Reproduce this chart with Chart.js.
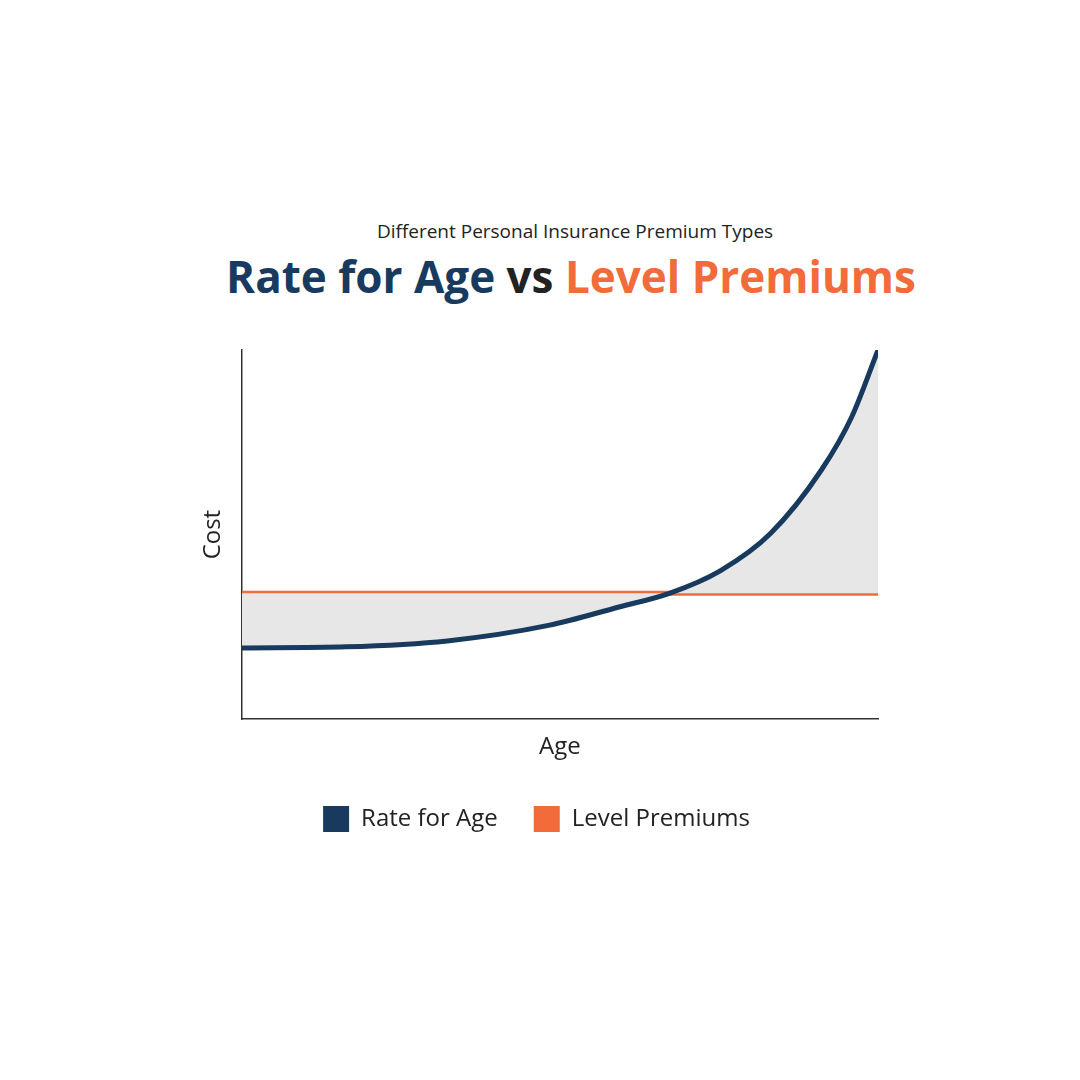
<!DOCTYPE html>
<html>
<head>
<meta charset="utf-8">
<script src="https://cdn.jsdelivr.net/npm/chart.js@4/dist/chart.umd.min.js"></script>
<style>
  body { margin: 0; background: #fff; font-family: "Open Sans", sans-serif; }
  #wrap { position: relative; width: 1080px; height: 1080px; }
  #sub { position: absolute; top: 218px; left: 0; width: 1150px; text-align: center; font-size: 19px; color: #222; }
  #main { position: absolute; top: 246px; left: 0; width: 1142px; text-align: center; font-size: 44px; font-weight: 700; color: #222; }
  canvas { position: absolute; top: 0; left: 0; }
</style>
</head>
<body>
<div id="wrap">
  <div id="sub">Different Personal Insurance Premium Types</div>
  <div id="main"><span style="color:#173a5e">Rate for Age</span> vs <span style="color:#f26b3a">Level Premiums</span></div>
  <canvas id="chart" width="1080" height="1080"></canvas>
</div>
<script>
// --- DATA ---
const ages = [0, 16.4, 32.3, 48.2, 59.3, 67.2, 75.2, 83.1, 91.1, 95.9, 100];
const rateForAge = [19.3, 19.6, 21.2, 25.4, 30.4, 34.1, 40.2, 50.3, 67.5, 82, 100];
const levelPremium = [34.1, 34.1, 34.1, 34.1, 34.1, 34.1, 34.1, 34.1, 34.1, 34.1, 34.1];

const navy = '#173a5e';
const orange = '#f26b3a';

const toPoints = (ys) => ages.map((x, i) => ({ x: x, y: ys[i] }));

new Chart(document.getElementById('chart'), {
    type: 'line',
    data: {
        datasets: [{
            label: 'Rate for Age',
            data: toPoints(rateForAge),
            borderColor: navy,
            backgroundColor: navy,
            borderWidth: 5,
            pointRadius: 0,
            cubicInterpolationMode: 'monotone',
            fill: { target: 1, above: '#e7e7e7', below: '#e7e7e7' }
        }, {
            label: 'Level Premiums',
            data: toPoints(levelPremium),
            borderColor: orange,
            backgroundColor: orange,
            borderWidth: 5,
            pointRadius: 0,
            fill: false
        }]
    },
    options: {
        responsive: false,
        animation: false,
        layout: { padding: { left: 195, right: 202, top: 350, bottom: 238 } },
        plugins: {
            legend: {
                position: 'bottom',
                labels: {
                    boxWidth: 26, boxHeight: 26, padding: 36,
                    color: '#222',
                    font: { family: 'Open Sans', size: 24 },
                    generateLabels: (chart) => chart.data.datasets.map((d, i) => ({
                        text: d.label, fillStyle: d.borderColor, strokeStyle: d.borderColor,
                        lineWidth: 0, datasetIndex: i, fontColor: '#222'
                    }))
                }
            },
            tooltip: { enabled: false }
        },
        scales: {
            x: {
                type: 'linear', min: 0, max: 100,
                grid: { display: false, drawTicks: false },
                border: { color: '#333', width: 1.5 },
                ticks: { display: false },
                title: { display: true, text: 'Age', color: '#222', font: { family: 'Open Sans', size: 24 }, padding: { top: 14, bottom: 8 } }
            },
            y: {
                min: 0, max: 100,
                grid: { display: false, drawTicks: false },
                border: { color: '#333', width: 1.5 },
                ticks: { display: false },
                title: { display: true, text: 'Cost', color: '#222', font: { family: 'Open Sans', size: 24 }, padding: { bottom: 14 } }
            }
        }
    }
});
</script>
</body>
</html>
